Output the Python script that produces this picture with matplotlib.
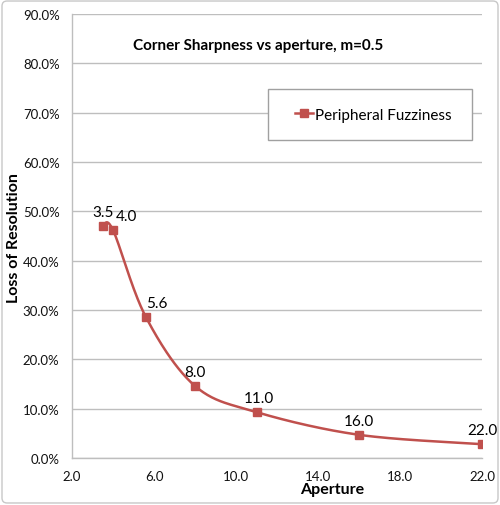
import numpy as np
import matplotlib
matplotlib.use("Agg")
import matplotlib.pyplot as plt
from matplotlib.patches import FancyBboxPatch, Rectangle
from matplotlib.ticker import FuncFormatter

apertures = [3.5, 4.0, 5.6, 8.0, 11.0, 16.0, 22.0]
loss = [0.470, 0.462, 0.286, 0.146, 0.093, 0.047, 0.028]
labels = ["3.5", "4.0", "5.6", "8.0", "11.0", "16.0", "22.0"]
label_dx = [0, 13, 11, 0, 2, 0, 0]

plt.rcParams['font.family'] = ['Lato', 'DejaVu Sans']
red = '#C0504D'

fig = plt.figure(figsize=(5.0, 5.06), dpi=100)
ax = fig.add_axes([0.144, 0.0929, 0.82, 0.8775])

# Excel-style smoothed curve (cubic Bezier, tension 1/6)
P = np.column_stack([apertures, loss])
n = len(P)
curve = []
t = np.linspace(0, 1, 40)
for i in range(n - 1):
    p0 = P[i]
    p3 = P[i + 1]
    prev = P[i - 1] if i > 0 else P[i]
    nxt = P[i + 2] if i + 2 < n else P[i + 1]
    c1 = p0 + (p3 - prev) / 6.0
    c2 = p3 - (nxt - p0) / 6.0
    seg = ((1 - t)[:, None] ** 3) * p0 + 3 * ((1 - t)[:, None] ** 2) * t[:, None] * c1 \
        + 3 * (1 - t)[:, None] * (t[:, None] ** 2) * c2 + (t[:, None] ** 3) * p3
    curve.append(seg)
curve = np.vstack(curve)
ax.plot(curve[:, 0], curve[:, 1], color=red, lw=1.8, zorder=3)
ax.plot(apertures, loss, ls='none', marker='s', ms=6, color=red, zorder=4)
ax.plot([], [], color=red, lw=1.8, marker='s', ms=6, label='Peripheral Fuzziness')

for xv, yv, lab, dx in zip(apertures, loss, labels, label_dx):
    ax.annotate(lab, (xv, yv), xytext=(dx, 14), textcoords='offset pixels',
                ha='center', va='center', fontsize=11, color='black')

ax.set_xlim(2, 22)
ax.set_ylim(0, 0.9)
ax.set_xticks([2, 6, 10, 14, 18, 22])
ax.set_yticks(np.arange(0, 0.91, 0.1))
ax.xaxis.set_major_formatter(FuncFormatter(lambda v, p: f"{v:.1f}"))
ax.yaxis.set_major_formatter(FuncFormatter(lambda v, p: f"{v*100:.1f}%"))
ax.tick_params(axis='both', length=0, labelsize=9.5, colors='#111111')
ax.tick_params(axis='x', pad=9)
ax.tick_params(axis='y', pad=9)
ax.grid(axis='y', color='#BEBEBE', lw=1)
ax.set_axisbelow(True)
for s in ['top', 'right']:
    ax.spines[s].set_visible(False)
for s in ['left', 'bottom']:
    ax.spines[s].set_color('#BEBEBE')
    ax.spines[s].set_linewidth(1)

ax.text(0.455, 0.93, "Corner Sharpness vs aperture, m=0.5", transform=ax.transAxes,
        ha='center', va='center', fontsize=11, fontweight='bold')

# legend box
ax.add_patch(Rectangle((0.478, 0.716), 0.497, 0.115, transform=ax.transAxes,
                       fill=True, facecolor='white', edgecolor='#A0A0A0', lw=1, zorder=5))
leg = ax.legend(loc='center', bbox_to_anchor=(0.735, 0.7735), frameon=False,
                fontsize=11, handlelength=1.2, handletextpad=0.1, borderaxespad=0)
leg.set_zorder(6)

fig.text(0.664, 0.032, "Aperture", ha='center', va='center', fontsize=11.5, fontweight='bold')
fig.text(0.029, 0.53, "Loss of Resolution", ha='center', va='center', rotation=90,
         fontsize=11.5, fontweight='bold')

border = FancyBboxPatch((0.004, 0.004), 0.992, 0.992, boxstyle="round,pad=0,rounding_size=0.01",
                        transform=fig.transFigure, fill=False, edgecolor='#C8C8C8', lw=1)
fig.patches.append(border)

fig.savefig("out.png", dpi=100)
